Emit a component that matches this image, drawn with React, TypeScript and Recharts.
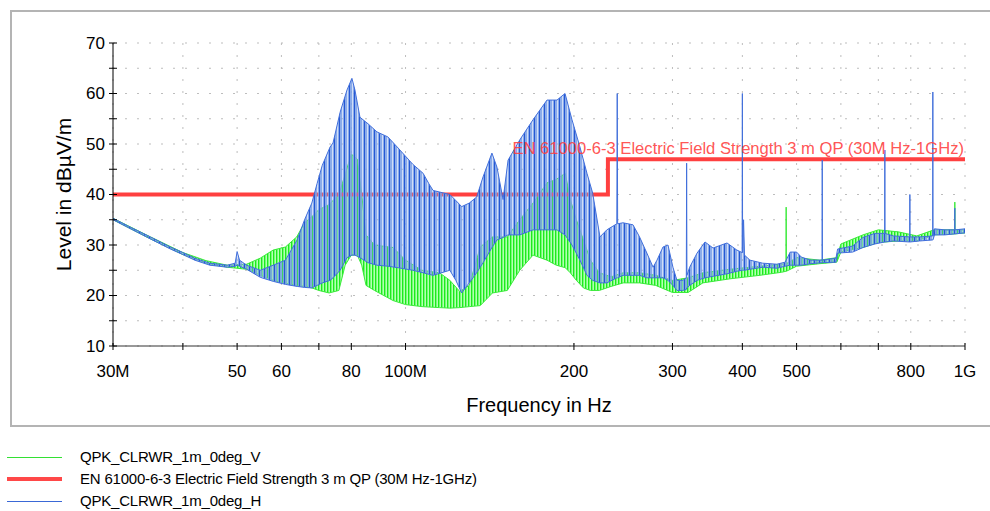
import {
  Area,
  CartesianGrid,
  ComposedChart,
  Line,
  ReferenceDot,
  XAxis,
  YAxis,
} from 'recharts';

// frequencies in MHz, levels in dBµV/m
const hFreq = [
  30, 32, 35, 38, 40, 42, 44.7, 48, 49.6, 50, 50.5, 52, 55, 58, 61, 64, 66, 68, 69.5, 71,
  73.3, 74.2, 76.4, 78.6, 80.2, 81.2, 82.9, 85.7, 88.9, 93, 97, 103, 107.5, 110, 112, 120,
  123, 126, 130, 134, 137.6, 142.7, 145.7, 149.4, 152.5, 160, 169, 179, 186.5, 192.8, 198.4,
  205, 211, 216, 222.6, 229, 238.6, 239, 239.4, 244.7, 255, 262, 270, 277, 281.5, 288.5,
  294.5, 300.6, 305.6, 313, 317.6, 318, 318.4, 322, 332, 343, 354.5, 375.5, 391, 399.6, 400,
  400.4, 402, 403.5, 412.7, 435, 461, 477, 487, 500, 510, 530, 555.3, 555.7, 556.1, 588, 592,
  630, 657, 690, 718.6, 719, 719.4, 745, 796.6, 797, 797.4, 830, 875.6, 876, 876.4, 882, 920,
  958.6, 959, 959.4, 1000,
];
const hLow = [
  35.0, 33.4, 31.2, 29.2, 28.1, 27.0, 26.0, 25.6, 25.8, 26.0, 25.8, 25.2, 23.6, 22.8, 22.2,
  21.8, 21.6, 21.5, 22.0, 22.5, 23.0, 23.5, 25.0, 27.5, 28.0, 28.0, 27.5, 26.5, 26.0, 25.8,
  25.5, 25.0, 24.5, 24.2, 24.0, 25.0, 23.0, 20.5, 22.5, 24.5, 26.5, 29.5, 31.0, 31.5, 32.0,
  32.0, 33.0, 33.0, 33.0, 32.0, 30.0, 27.0, 24.0, 23.0, 22.5, 22.5, 23.5, 23.5, 23.5, 24.0,
  24.0, 24.0, 23.5, 23.5, 23.5, 23.5, 23.0, 22.0, 21.0, 21.0, 21.2, 21.5, 21.5, 22.0, 23.0,
  23.5, 23.8, 24.3, 24.8, 25.0, 25.0, 25.0, 25.0, 25.0, 25.2, 25.6, 25.4, 25.8, 26.0, 26.0,
  26.0, 26.3, 26.5, 26.5, 26.5, 26.6, 28.4, 28.6, 29.5, 30.2, 30.6, 30.6, 30.6, 30.8, 30.6,
  30.6, 30.6, 30.8, 31.0, 31.0, 31.0, 32.0, 32.0, 32.2, 32.2, 32.2, 32.4,
];
const hHigh = [
  35.3, 33.7, 31.6, 29.6, 28.5, 27.4, 26.4, 26.0, 26.4, 28.7, 27.0, 26.0, 25.0, 26.0, 27.0,
  31.0, 35.0, 38.3, 42.2, 45.8, 49.4, 50.2, 56.3, 60.7, 63.0, 60.7, 55.3, 54.0, 52.4, 51.4,
  49.2, 46.0, 44.2, 42.2, 40.8, 40.0, 38.8, 37.6, 38.3, 39.5, 43.5, 48.2, 45.4, 39.0, 46.8,
  50.8, 54.8, 58.7, 58.7, 60.0, 54.8, 49.4, 44.2, 40.3, 31.6, 33.0, 34.2, 60.0, 34.2, 34.4,
  34.0, 31.6, 28.4, 25.6, 27.0, 29.6, 30.0, 25.6, 23.0, 23.0, 23.5, 46.2, 24.0, 25.6, 28.4,
  30.6, 29.4, 30.4, 29.0, 28.5, 60.0, 28.5, 35.0, 28.0, 27.0, 26.4, 26.2, 26.6, 28.6, 28.6,
  27.6, 27.0, 27.0, 46.8, 27.0, 27.4, 29.2, 29.8, 31.5, 32.3, 32.3, 48.8, 32.3, 31.8, 31.6,
  40.0, 31.6, 31.6, 31.8, 60.3, 31.8, 33.2, 33.0, 33.0, 37.3, 33.0, 33.2,
];

const vFreq = [
  30, 35, 40, 44, 48, 52, 55, 58, 61, 63.9, 66, 68, 70, 73, 76, 78, 80, 82, 83.5, 85, 88, 95,
  100, 107, 115, 120, 125, 130, 136, 143, 152, 160, 169, 179, 186, 193, 197, 202, 208, 214,
  222, 233, 245, 262, 280, 300, 320, 340, 380, 430, 470, 478.6, 479, 479.4, 500, 550, 590,
  600, 657, 700, 760, 820, 880, 958.5, 959, 959.5, 1000,
];
const vLow = [
  35.0, 31.2, 28.1, 26.4, 25.6, 25.2, 24.0, 23.0, 22.4, 22.0, 21.8, 21.5, 21.0, 20.5, 21.0,
  26.0, 28.0, 28.0, 26.0, 22.0, 21.0, 19.0, 18.2, 17.8, 17.6, 17.5, 17.6, 17.8, 18.0, 20.5,
  21.0, 25.0, 28.0, 27.0, 26.0, 25.5, 24.5, 23.0, 21.5, 21.0, 21.0, 21.8, 22.5, 22.5, 22.0,
  20.6, 20.6, 22.5, 23.3, 24.0, 24.6, 24.8, 24.8, 24.8, 25.8, 26.3, 26.6, 28.6, 29.5, 30.5,
  30.8, 30.8, 32.0, 32.2, 32.2, 32.2, 32.4,
];
const vHigh = [
  35.3, 31.6, 28.5, 26.9, 26.0, 26.2, 27.4, 29.0, 29.6, 31.6, 34.4, 35.6, 37.0, 38.0, 40.0,
  44.0, 48.0, 47.0, 40.0, 32.0, 30.0, 29.5, 27.0, 25.0, 24.5, 23.0, 20.8, 22.0, 29.6, 31.6,
  31.6, 35.0, 38.3, 42.3, 43.0, 44.2, 39.0, 35.0, 31.0, 27.0, 24.5, 23.7, 24.5, 24.5, 24.0,
  23.0, 23.5, 24.5, 25.2, 25.8, 26.2, 26.3, 37.5, 26.3, 27.5, 27.0, 27.5, 30.2, 32.0, 33.0,
  32.6, 31.8, 33.0, 33.0, 38.5, 33.0, 33.0,
];

const limitFreq = [30, 230, 1000];
const limitLevel = [40, 47, 47];

const xTicks = [30, 40, 50, 60, 70, 80, 100, 200, 300, 400, 500, 600, 700, 800, 1000];
const xTickLabels = ['30M', '', '50', '60', '', '80', '100M', '200', '300', '400', '500', '', '', '800', '1G'];
const yTicks = [10, 15, 20, 25, 30, 35, 40, 45, 50, 55, 60, 65, 70];

const seriesNames = [
  'QPK_CLRWR_1m_0deg_V',
  'EN 61000-6-3 Electric Field Strength 3 m QP (30M Hz-1GHz)',
  'QPK_CLRWR_1m_0deg_H',
];

const FONT = '"Liberation Sans", Arial, sans-serif';

const hData = hFreq.map((f, i) => ({ f, range: [hLow[i], hHigh[i]] }));
const vData = vFreq.map((f, i) => ({ f, range: [vLow[i], vHigh[i]] }));
const limitData = limitFreq.map((f, i) => ({ f, level: limitLevel[i] }));

function XTick(props: any) {
  const { x, y, payload } = props;
  const label = xTickLabels[xTicks.indexOf(payload.value)];
  return (
    <g>
      <line x1={x} x2={x} y1={y - 3} y2={y + 4} stroke="#000" />
      {label && (
        <text x={x} y={y + 25} textAnchor="middle" dominantBaseline="central" fontSize={17} fill="#000" fontFamily={FONT}>
          {label}
        </text>
      )}
    </g>
  );
}

function YTick(props: any) {
  const { x, y, payload } = props;
  const major = payload.value % 10 === 0;
  return (
    <g>
      <line x1={x - 4} x2={x + 4} y1={y} y2={y} stroke="#000" />
      {major && (
        <text x={x - 8} y={y} textAnchor="end" dominantBaseline="central" fontSize={17} fill="#000" fontFamily={FONT}>
          {payload.value}
        </text>
      )}
    </g>
  );
}

function YTitle(props: any) {
  const vb = props.viewBox;
  const cx = vb.x + 10;
  const cy = vb.y + vb.height / 2;
  return (
    <text
      x={cx}
      y={cy}
      transform={`rotate(-90, ${cx}, ${cy})`}
      textAnchor="middle"
      dominantBaseline="central"
      fontSize={21}
      fill="#000"
      fontFamily={FONT}
    >
      Level in dBµV/m
    </text>
  );
}

function LimitLabel(props: any) {
  const vb = props.viewBox;
  return (
    <text
      x={vb.x + vb.width / 2 - 1}
      y={vb.y + vb.height / 2 - 5}
      textAnchor="end"
      fontSize={16.6}
      fill="#ff4040"
      fillOpacity={0.9}
      fontFamily={FONT}
    >
      {seriesNames[1]}
    </text>
  );
}

function LegendRow({ top, color, thick, name }: { top: number; color: string; thick: number; name: string }) {
  return (
    <div style={{ position: 'absolute', left: 0, top: top - 10, height: 20, width: 600 }}>
      <div
        style={{
          position: 'absolute',
          left: 7,
          top: 10 - thick / 2,
          width: 55,
          height: thick,
          background: color,
        }}
      />
      <div
        style={{
          position: 'absolute',
          left: 80,
          top: 0,
          lineHeight: '20px',
          fontSize: 15,
          letterSpacing: -0.2,
          fontFamily: FONT,
          color: '#000',
          whiteSpace: 'nowrap',
        }}
      >
        {name}
      </div>
    </div>
  );
}

export default function App() {
  return (
    <div
      style={{
        position: 'absolute',
        left: 0,
        top: 0,
        width: 990,
        height: 511,
        overflow: 'hidden',
        background: '#fff',
      }}
    >
      <div
        style={{
          position: 'absolute',
          left: 10,
          top: 10,
          width: 1000,
          height: 413,
          border: '2px solid #b4b4b4',
        }}
      />
      <div style={{ position: 'absolute', left: 0, top: 0 }}>
        <ComposedChart width={990} height={430} margin={{ top: 43, right: 25, bottom: 14, left: 53 }}>
          <defs>
            <pattern id="hStripe" width="5" height="4" patternUnits="userSpaceOnUse">
              <rect x="0" y="0" width="2" height="4" fill="#7a9fe7" fillOpacity={0.88} />
              <rect x="2" y="0" width="1" height="4" fill="#7a9fe7" fillOpacity={0.35} />
              <rect x="3" y="0" width="1" height="4" fill="#7a9fe7" fillOpacity={0.88} />
              <rect x="4" y="0" width="1" height="4" fill="#2558d4" />
            </pattern>
            <pattern id="vStripe" width="3" height="4" patternUnits="userSpaceOnUse">
              <rect x="0" y="0" width="1" height="4" fill="#1ee81e" />
              <rect x="1" y="0" width="1" height="4" fill="#72ff72" />
              <rect x="2" y="0" width="1" height="4" fill="#b4ffb4" />
            </pattern>
          </defs>
          <CartesianGrid stroke="#bdbdbd" strokeDasharray="2 10" />
          <XAxis
            dataKey="f"
            type="number"
            scale="log"
            domain={[30, 1000]}
            ticks={xTicks}
            interval={0}
            allowDataOverflow
            height={70}
            stroke="#333"
            tickLine={false}
            tickSize={0}
            tickMargin={0}
            tick={<XTick />}
            label={{ value: 'Frequency in Hz', position: 'insideBottom', offset: 4, fontSize: 20, fill: '#000', fontFamily: FONT }}
          />
          <YAxis
            type="number"
            domain={[10, 70]}
            ticks={yTicks}
            interval={0}
            width={60}
            stroke="#000"
            tickLine={false}
            tickSize={0}
            tickMargin={0}
            tick={<YTick />}
            label={<YTitle />}
          />
          <Area
            data={vData}
            dataKey="range"
            type="linear"
            fill="url(#vStripe)"
            fillOpacity={1}
            stroke="#3aea3a"
            strokeWidth={1}
            isAnimationActive={false}
            zIndex={100}
            name={seriesNames[0]}
          />
          <Line
            data={limitData}
            dataKey="level"
            type="stepAfter"
            stroke="#ff4040"
            strokeWidth={4}
            dot={false}
            isAnimationActive={false}
            zIndex={101}
            name={seriesNames[1]}
          />
          <Area
            data={hData}
            dataKey="range"
            type="linear"
            fill="url(#hStripe)"
            fillOpacity={1}
            stroke="#416fdb"
            strokeWidth={1}
            isAnimationActive={false}
            zIndex={102}
            name={seriesNames[2]}
          />
          <ReferenceDot x={1000} y={47} r={1} fill="none" stroke="none" label={<LimitLabel />} />
        </ComposedChart>
      </div>
      <LegendRow top={457} color="#33e033" thick={1} name={seriesNames[0]} />
      <LegendRow top={479} color="#ff4848" thick={4} name={seriesNames[1]} />
      <LegendRow top={501} color="#3a68d6" thick={1} name={seriesNames[2]} />
    </div>
  );
}
